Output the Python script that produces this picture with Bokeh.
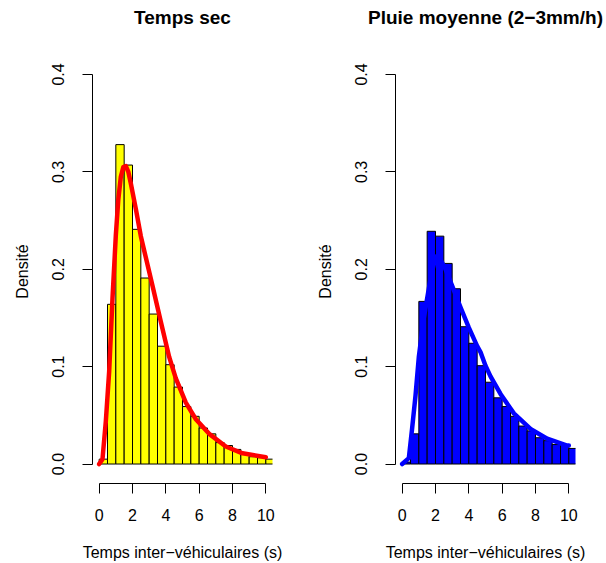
from bokeh.plotting import figure
from bokeh.layouts import row
from bokeh.models import FixedTicker, Range1d, ColumnDataSource
from bokeh.embed import file_html
from bokeh.resources import INLINE

# ---- data ----
bin_left = [0.0, 0.5, 1.0, 1.5, 2.0, 2.5, 3.0, 3.5, 4.0, 4.5, 5.0,
            5.5, 6.0, 6.5, 7.0, 7.5, 8.0, 8.5, 9.0, 9.5, 10.0]
bin_width = 0.5

dry_density = [0.005, 0.164, 0.328, 0.307, 0.241, 0.191, 0.154, 0.121, 0.102, 0.079, 0.059,
               0.049, 0.037, 0.031, 0.022, 0.019, 0.015, 0.010, 0.0075, 0.0065, 0.005]
rain_density = [0.002, 0.031, 0.167, 0.239, 0.234, 0.206, 0.180, 0.141, 0.124, 0.101, 0.084,
                0.068, 0.059, 0.049, 0.039, 0.034, 0.027, 0.024, 0.020, 0.019, 0.016]

dry_fit_x = [0.0, 0.2, 0.4, 0.6, 0.8, 1.0, 1.15, 1.3, 1.45, 1.6, 1.75, 1.9, 2.2, 2.5, 2.8,
             3.2, 3.7, 4.2, 4.6, 5.2, 5.8, 6.6, 7.6, 8.6, 10.0]
dry_fit_y = [0.0, 0.005, 0.044, 0.095, 0.17, 0.235, 0.272, 0.295, 0.305, 0.306, 0.300, 0.288,
             0.262, 0.234, 0.212, 0.183, 0.146, 0.110, 0.088, 0.063, 0.046, 0.031, 0.018, 0.011, 0.007]

rain_fit_x = [0.0, 0.4, 0.6, 0.8, 1.0, 1.3, 1.7, 2.0, 2.3, 2.6, 3.0, 3.5, 4.0, 4.5, 4.7,
              5.0, 5.3, 5.9, 6.7, 7.7, 8.7, 9.9, 10.0]
rain_fit_y = [0.0, 0.006, 0.037, 0.070, 0.110, 0.150, 0.190, 0.213, 0.210, 0.200, 0.183,
              0.161, 0.140, 0.121, 0.115, 0.101, 0.090, 0.072, 0.052, 0.036, 0.026, 0.019, 0.019]

x_ticks = [0, 2, 4, 6, 8, 10]
y_ticks = [0.0, 0.1, 0.2, 0.3, 0.4]
y_tick_labels = ["0.0", "0.1", "0.2", "0.3", "0.4"]

titles = ["Temps sec", "Pluie moyenne (2\u22123mm/h)"]
x_label = "Temps inter\u2212véhiculaires (s)"
y_label = "Densité"

FONT = "Liberation Sans"
H = 563


def make_panel(title, density, fit_x, fit_y, fill, curve_color, border_left, border_right):
    width = border_left + 180 + border_right
    p = figure(width=width, height=H, output_backend="svg", toolbar_location=None,
               x_range=Range1d(-0.4, 10.4), y_range=Range1d(-0.02, 0.4154),
               min_border_left=border_left, min_border_right=border_right,
               min_border_top=59, min_border_bottom=80)
    p.outline_line_color = None
    p.grid.visible = False
    p.background_fill_color = "white"
    p.border_fill_color = "white"

    # trailing empty line lifts the title well above the plotting area (as in R)
    p.title.text = title + "\n"
    p.title.text_font = FONT
    p.title.text_font_size = "19px"
    p.title.text_font_style = "bold"
    p.title.text_line_height = 1.5
    p.title.align = "center"
    p.title.standoff = 0
    p.title.text_color = "black"

    src = ColumnDataSource(dict(
        left=bin_left,
        right=[b + bin_width for b in bin_left],
        top=density,
    ))
    p.quad(left="left", right="right", bottom=0, top="top", source=src,
           fill_color=fill, line_color="black", line_width=1)
    p.line(fit_x, fit_y, line_color=curve_color, line_width=4.5, line_cap="round",
           line_join="round")

    for ax in (p.xaxis[0], p.yaxis[0]):
        ax.axis_line_color = "black"
        ax.major_tick_line_color = "black"
        ax.minor_tick_line_color = None
        ax.major_tick_out = 10
        ax.major_tick_in = 0
        ax.major_label_text_font = FONT
        ax.major_label_text_font_size = "16px"
        ax.major_label_text_color = "black"
        ax.axis_label_text_font = FONT
        ax.axis_label_text_font_size = "16px"
        ax.axis_label_text_font_style = "normal"
        ax.axis_label_text_color = "black"

    xa = p.xaxis[0]
    xa.ticker = FixedTicker(ticks=x_ticks)
    xa.bounds = (x_ticks[0], x_ticks[-1])
    xa.major_label_standoff = 15
    xa.axis_label = x_label
    xa.axis_label_standoff = 20

    ya = p.yaxis[0]
    ya.ticker = FixedTicker(ticks=y_ticks)
    ya.bounds = (y_ticks[0], y_ticks[-1])
    ya.major_label_overrides = {t: s for t, s in zip(y_ticks, y_tick_labels)}
    ya.major_label_orientation = "vertical"
    ya.major_label_standoff = 18
    ya.axis_label = y_label
    ya.axis_label_standoff = 19
    return p


p1 = make_panel(titles[0], dry_density, dry_fit_x, dry_fit_y, "#FFFF00", "#FF0000", 92, 31)
p2 = make_panel(titles[1], rain_density, rain_fit_x, rain_fit_y, "#0000FF", "#0000FF", 92, 31)

layout = row(p1, p2)
open("out.html", "w").write(file_html(layout, INLINE))
